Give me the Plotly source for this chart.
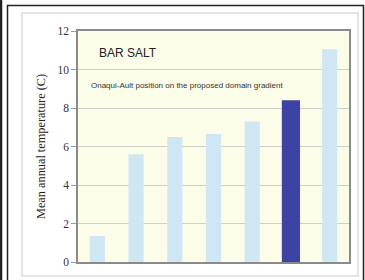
import plotly.graph_objects as go

categories = ["S1", "S2", "S3", "S4", "S5", "Onaqui-Ault", "S7"]
temps = [1.35, 5.6, 6.5, 6.65, 7.3, 8.4, 11.05]
bar_colors = ["#cfe6f3", "#cfe6f3", "#cfe6f3", "#cfe6f3", "#cfe6f3", "#3d42a5", "#cfe6f3"]
bar_widths = [0.39, 0.39, 0.39, 0.39, 0.39, 0.47, 0.39]
y_ticks = [0, 2, 4, 6, 8, 10, 12]

W, H = 365, 280
L, R, T, B = 78, 16, 31, 18
pw, ph = W - L - R, H - T - B

def px(x):
    return (x - L) / pw

def py(y):
    return (H - B - y) / ph

fig = go.Figure()
fig.add_trace(go.Bar(x=categories, y=temps, marker=dict(color=bar_colors, line=dict(width=0)),
                     width=bar_widths, hoverinfo="skip"))

fig.update_layout(
    width=W, height=H,
    margin=dict(l=L, r=R, t=T, b=B),
    paper_bgcolor="white",
    plot_bgcolor="#fcfde8",
    showlegend=False,
    font=dict(family="Liberation Serif", color="#222"),
    xaxis=dict(showticklabels=False, showgrid=False, showline=True, linecolor="#8a8a8a",
               linewidth=1.5, mirror=True, ticks=""),
    yaxis=dict(range=[0, 12], tickvals=y_ticks, showgrid=True, gridcolor="#cfcfc8", gridwidth=1,
               showline=True, linecolor="#8a8a8a", linewidth=1.5, mirror=True,
               ticks="outside", ticklen=5, tickcolor="#999", zeroline=False,
               tickfont=dict(family="Liberation Serif", size=11.5, color="#333"),
               title=dict(text="Mean annual temperature (C)", standoff=9,
                          font=dict(family="Liberation Serif", size=12.3, color="#222"))),
    shapes=[
        dict(type="rect", xref="paper", yref="paper", x0=px(22), x1=px(358), y0=py(276), y1=py(13),
             line=dict(color="#dcdcdc", width=1.5), layer="below"),
        dict(type="rect", xref="paper", yref="paper", x0=px(7.5), x1=px(363.5), y0=py(285), y1=py(5.5),
             line=dict(color="#222", width=1.5), layer="above"),
        dict(type="line", xref="paper", yref="paper", x0=px(1), x1=px(1), y0=py(285), y1=py(-5),
             line=dict(color="#222", width=2.5), layer="above"),
    ],
    annotations=[
        dict(text="BAR SALT", xref="paper", yref="paper", x=px(97), y=py(53), xanchor="left",
             yanchor="middle", showarrow=False,
             font=dict(family="Liberation Sans", size=12, color="#222")),
        dict(text="Onaqui-Ault position on the proposed domain gradient", xref="paper", yref="paper",
             x=px(89), y=py(85), xanchor="left", yanchor="middle", showarrow=False,
             font=dict(family="Liberation Sans", size=8, color="#333")),
    ],
)

fig.write_html("out.html", config={"displayModeBar": False},
               post_script="document.body.style.margin='0';document.body.style.overflow='hidden';")
